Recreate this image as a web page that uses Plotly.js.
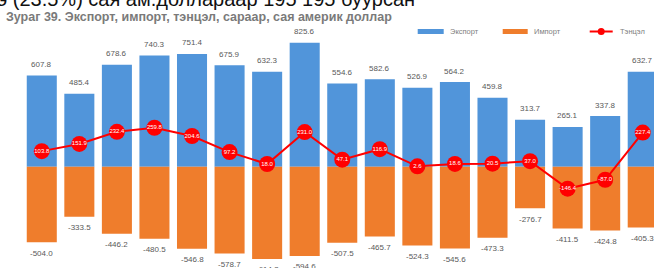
<!DOCTYPE html>
<html>
<head>
<meta charset="utf-8">
<script src="https://cdn.plot.ly/plotly-3.0.1.min.js"></script>
<style>html,body{margin:0;padding:0;background:#fff;}#chart{width:654px;height:268px;}</style>
</head>
<body>
<div id="chart"></div>
<script>
const months = ["1","2","3","4","5","6","7","8","9","10","11","12","13","14","15","16","17"];
const exportVals = [607.8, 485.4, 678.6, 740.3, 751.4, 675.9, 632.3, 825.6, 554.6, 582.6, 526.9, 564.2, 459.8, 313.7, 265.1, 337.8, 632.7];
const importVals = [-504.0, -333.5, -446.2, -480.5, -546.8, -578.7, -614.3, -594.6, -507.5, -465.7, -524.3, -545.6, -473.3, -276.7, -411.5, -424.8, -405.3];
const balanceVals = [103.8, 151.9, 232.4, 259.8, 204.6, 97.2, 18.0, 231.0, 47.1, 116.9, 2.6, 18.6, 20.5, 37.0, -146.4, -87.0, 227.4];
const seriesNames = ["Экспорт", "Импорт", "Тэнцэл"];
const titleText = "Зураг 39. Экспорт, импорт, тэнцэл, сараар, сая америк доллар";
const topText = "э (23.5%) сая ам.доллараар 195 195 буурсан";

const BLUE = "#5195DA", ORANGE = "#EF7D2C", RED = "#FF0000", GRAY = "#595959";
const FONT = "Liberation Sans, Arial, sans-serif";

const traces = [
  {type: "bar", x: months, y: exportVals, name: seriesNames[0], marker: {color: BLUE}, hoverinfo: "skip"},
  {type: "bar", x: months, y: importVals, name: seriesNames[1], marker: {color: ORANGE}, hoverinfo: "skip"},
  {type: "scatter", mode: "lines+markers+text", x: months, y: balanceVals, name: seriesNames[2],
   line: {color: RED, width: 2}, marker: {color: RED, size: 16},
   text: balanceVals.map(v => v.toFixed(1)), textposition: "middle center",
   textfont: {color: "#ffffff", size: 6, family: FONT}, cliponaxis: false, hoverinfo: "skip"}
];

const annotations = [];
exportVals.forEach((v, i) => annotations.push({x: i, y: v, xref: "x", yref: "y", text: v.toFixed(1),
  showarrow: false, yshift: 11, font: {size: 8, color: GRAY, family: FONT}}));
importVals.forEach((v, i) => annotations.push({x: i, y: v, xref: "x", yref: "y", text: v.toFixed(1),
  showarrow: false, yshift: -11, font: {size: 8, color: GRAY, family: FONT}}));

// title and cut-off body text line
annotations.push({xref: "paper", yref: "paper", x: -0.03, y: 1 + (30 - 17) / 238, xanchor: "left", yanchor: "middle",
  text: "<b>" + titleText + "</b>", showarrow: false, font: {size: 12.5, color: "#7a7a7a", family: FONT}});
annotations.push({xref: "paper", yref: "paper", x: -0.045, y: 1 + (30 - 12) / 238, xanchor: "left", yanchor: "bottom",
  text: topText, showarrow: false, font: {size: 20, color: "#111", family: FONT}});

// legend drawn by hand
const legendItems = [
  {x0: 418, x1: 444, color: BLUE, tx: 448, label: seriesNames[0], kind: "bar"},
  {x0: 503, x1: 528, color: ORANGE, tx: 532, label: seriesNames[1], kind: "bar"},
  {x0: 590, x1: 613, color: RED, tx: 618, label: seriesNames[2], kind: "line"}
];
const px2x = p => (p - 23.3) / 631;
const py2y = p => 1 + (30 - p) / 238;
const shapes = [];
legendItems.forEach(it => {
  if (it.kind === "bar") {
    shapes.push({type: "rect", xref: "paper", yref: "paper", x0: px2x(it.x0), x1: px2x(it.x1), y0: py2y(34), y1: py2y(29),
      fillcolor: it.color, line: {width: 0}});
  } else {
    shapes.push({type: "line", xref: "paper", yref: "paper", x0: px2x(it.x0), x1: px2x(it.x1), y0: py2y(31.5), y1: py2y(31.5),
      line: {color: it.color, width: 2}});
    shapes.push({type: "circle", xref: "paper", yref: "paper", x0: px2x(598), x1: px2x(605), y0: py2y(35), y1: py2y(28),
      fillcolor: it.color, line: {width: 0}});
  }
  annotations.push({xref: "paper", yref: "paper", x: px2x(it.tx), y: py2y(31.5), xanchor: "left", yanchor: "middle",
    text: it.label, showarrow: false, font: {size: 7.5, color: "#808080", family: FONT}});
});

const layout = {
  width: 654, height: 268,
  margin: {l: 23.3, r: 0, t: 30, b: 0, pad: 0},
  paper_bgcolor: "#ffffff", plot_bgcolor: "#ffffff",
  barmode: "relative", bargap: 0.2,
  showlegend: false,
  xaxis: {type: "category", range: [-0.5, 16.3], showgrid: false, zeroline: false, showticklabels: false, showline: false, ticks: ""},
  yaxis: {range: [-675, 911], showgrid: false, zeroline: false, showticklabels: false, showline: false, ticks: ""},
  annotations: annotations, shapes: shapes,
  font: {family: FONT}
};

Plotly.newPlot("chart", traces, layout, {staticPlot: true, displayModeBar: false});
</script>
</body>
</html>
